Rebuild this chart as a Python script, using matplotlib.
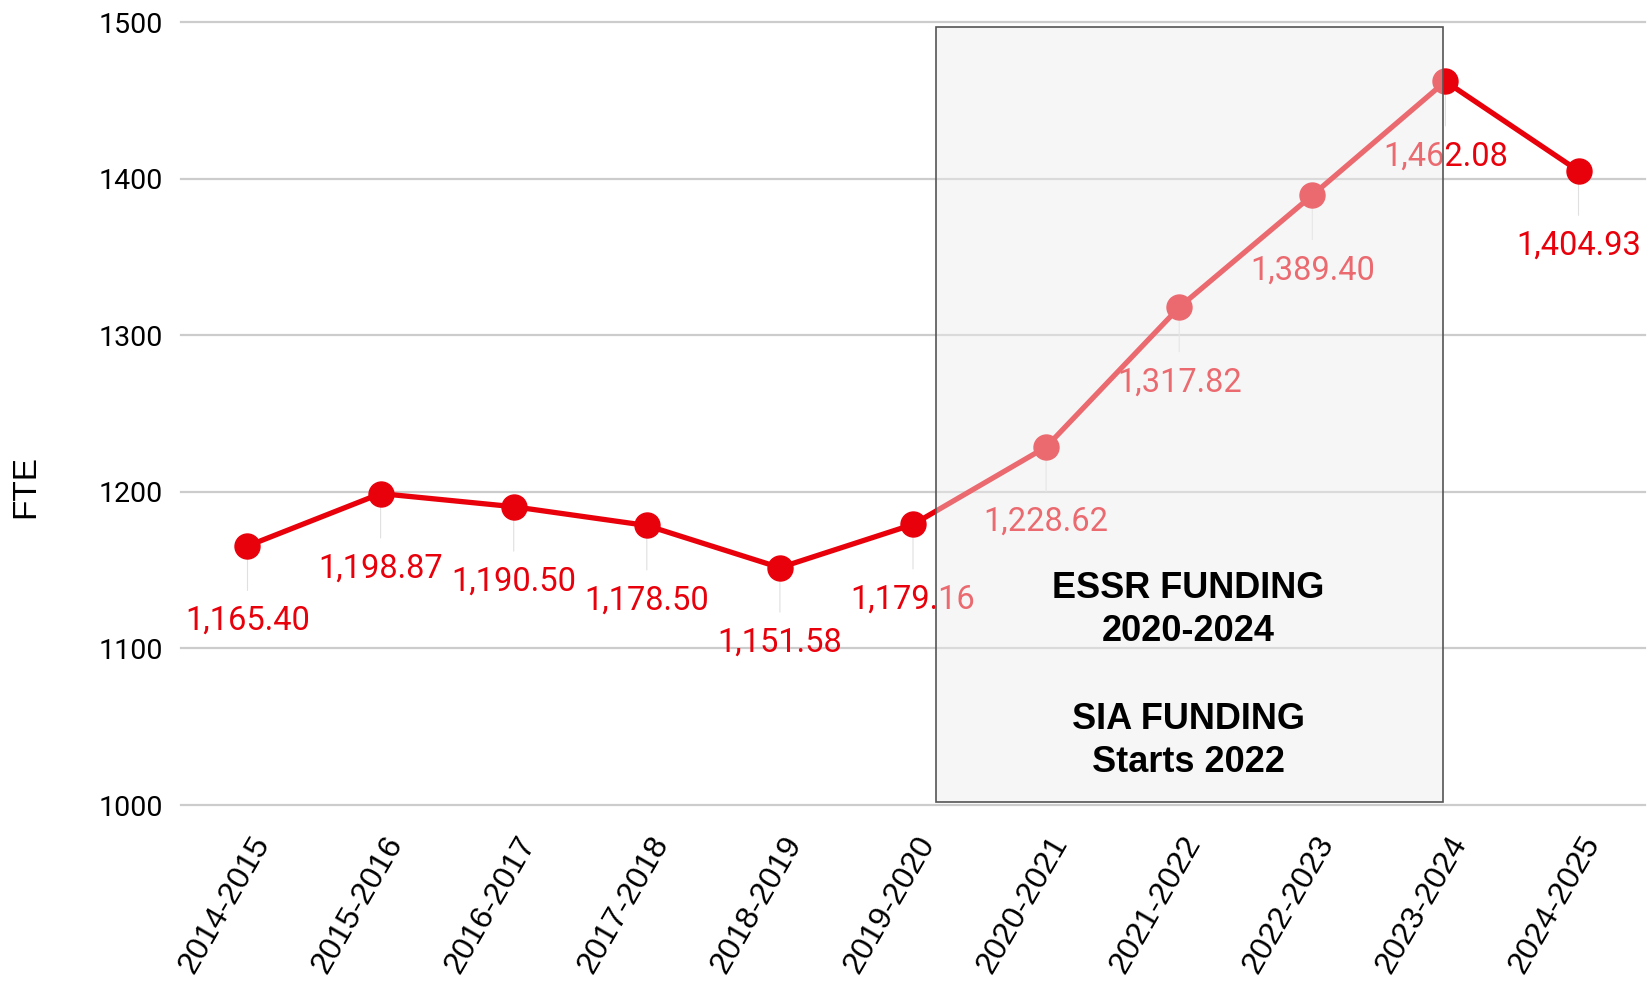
import matplotlib
matplotlib.use("Agg")
import matplotlib.pyplot as plt
import matplotlib.transforms as mtransforms
from matplotlib.patches import Rectangle

years = ["2014-2015", "2015-2016", "2016-2017", "2017-2018", "2018-2019", "2019-2020",
         "2020-2021", "2021-2022", "2022-2023", "2023-2024", "2024-2025"]
fte = [1165.40, 1198.87, 1190.50, 1178.50, 1151.58, 1179.16,
       1228.62, 1317.82, 1389.40, 1462.08, 1404.93]
y_ticks = [1000, 1100, 1200, 1300, 1400, 1500]

# shaded funding window (in category / value units)
box_x = (5.17, 8.98)
box_y = (1002, 1497)

red = "#e8000b"

fig = plt.figure(figsize=(16.51, 9.84), dpi=100)
ax = fig.add_axes([0.1096, 0.1819, 0.8868, 0.7957])

x = list(range(len(years)))
ax.set_xlim(-0.5, len(years) - 0.5)
ax.set_ylim(1000, 1500)

for t in y_ticks:
    ax.axhline(t, color="#cccccc", lw=1.6, zorder=0, clip_on=False)

ax.plot(x, fte, color=red, lw=3.8, marker="o", markersize=18, zorder=3)

for i, v in zip(x, fte):
    ax.annotate("", xy=(i, v), xytext=(0, -32), textcoords="offset points",
                arrowprops=dict(arrowstyle="-", color="#e0e0e0", lw=0.8,
                                shrinkA=0, shrinkB=0), zorder=1)
    ax.annotate(f"{v:,.2f}", xy=(i, v), xytext=(0, -54), textcoords="offset points",
                ha="center", va="center", color=red, fontsize=23.5,
                family="Roboto", zorder=4)

# translucent box on top of everything
ax.add_patch(Rectangle((box_x[0], box_y[0]), box_x[1] - box_x[0], box_y[1] - box_y[0],
                       facecolor=(0.93, 0.93, 0.93, 0.45), edgecolor="#555555",
                       lw=1.2, zorder=5))
ax.text(7.07, 1124.8, "ESSR FUNDING\n2020-2024", ha="center", va="center",
        fontsize=26, fontweight="bold", family="Liberation Sans",
        linespacing=1.3, zorder=6)
ax.text(7.07, 1040.7, "SIA FUNDING\nStarts 2022", ha="center", va="center",
        fontsize=26, fontweight="bold", family="Liberation Sans",
        linespacing=1.3, zorder=6)

for s in ax.spines.values():
    s.set_visible(False)
ax.tick_params(length=0)

ax.set_yticks(y_ticks)
ax.set_yticklabels([str(t) for t in y_ticks], family="Roboto", fontsize=20.5)
ax.tick_params(axis="y", pad=13)

ax.set_xticks(x)
ax.set_xticklabels(years, rotation=60, ha="right", va="center",
                   rotation_mode="anchor", family="Liberation Sans", fontsize=23)
ax.tick_params(axis="x", pad=24)
offset = mtransforms.ScaledTranslation(15 / 100, 0, fig.dpi_scale_trans)
for lab in ax.get_xticklabels():
    lab.set_transform(lab.get_transform() + offset)

fig.text(26 / 1651, 1 - 486 / 984, "FTE", rotation=90, ha="center", va="center",
         family="Liberation Sans", fontsize=24)

fig.savefig("out.png", dpi=100)
